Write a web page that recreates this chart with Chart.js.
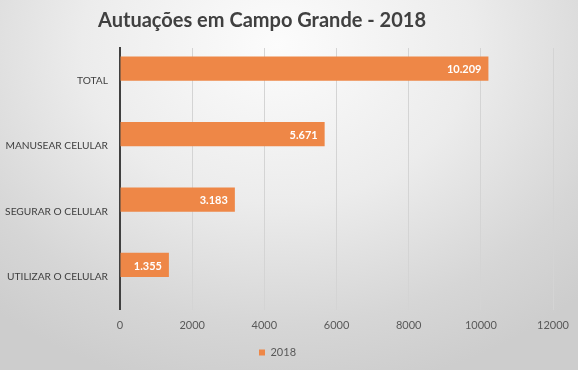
<!DOCTYPE html>
<html>
<head>
<meta charset="utf-8">
<script src="https://cdn.jsdelivr.net/npm/chart.js@4.4.0/dist/chart.umd.min.js"></script>
<style>
    html, body { margin: 0; padding: 0; }
    body {
        width: 578px;
        height: 370px;
        background: radial-gradient(ellipse 75% 95% at 48% 12%, #fcfcfc 0%, #ececec 45%, #d6d6d6 80%, #cdcdcd 100%);
    }
    #wrap { width: 578px; height: 370px; position: relative; }
</style>
</head>
<body>
<div id="wrap"><canvas id="chart"></canvas></div>
<script>
const chartTitle = "Autuações em Campo Grande - 2018";
const categories = ["TOTAL", "MANUSEAR CELULAR", "SEGURAR O CELULAR", "UTILIZAR O CELULAR"];
const values2018 = [10209, 5671, 3183, 1355];
const emptySeries = [null, null, null, null];
const xTicks = [0, 2000, 4000, 6000, 8000, 10000, 12000];

const FONT = "Lato, 'Liberation Sans', sans-serif";

function formatBR(n) {
    return String(n).replace(/\B(?=(\d{3})+(?!\d))/g, ".");
}

// title drawn by hand, Excel puts it a bit left of centre
const titlePlugin = {
    id: 'excelTitle',
    afterDraw(chart) {
        const c = chart.ctx;
        c.save();
        c.font = "bold 20px " + FONT;
        c.fillStyle = "#404040";
        c.textAlign = "center";
        c.textBaseline = "alphabetic";
        c.fillText(chartTitle, 262, 27);
        c.restore();
    }
};

// white value labels at the inside end of each bar
const valueLabels = {
    id: 'valueLabels',
    afterDatasetsDraw(chart) {
        const c = chart.ctx;
        const meta = chart.getDatasetMeta(0);
        c.save();
        c.font = "bold 11px " + FONT;
        c.fillStyle = "#ffffff";
        c.textAlign = "right";
        c.textBaseline = "middle";
        meta.data.forEach((bar, i) => {
            c.fillText(formatBR(values2018[i]), bar.x - 7, bar.y + 1);
        });
        c.restore();
    }
};

new Chart(document.getElementById("chart"), {
    type: 'bar',
    data: {
        labels: categories,
        datasets: [{
            label: '2018',
            data: values2018,
            backgroundColor: '#ee8747',
            categoryPercentage: 0.74,
            barPercentage: 1.0
        }, {
            label: '',
            data: emptySeries,
            backgroundColor: 'rgba(0,0,0,0)',
            categoryPercentage: 0.74,
            barPercentage: 1.0
        }]
    },
    options: {
        indexAxis: 'y',
        responsive: true,
        maintainAspectRatio: false,
        animation: false,
        layout: {
            padding: { top: 48, right: 23, bottom: 2, left: 0 }
        },
        scales: {
            x: {
                min: 0,
                max: 12000,
                afterBuildTicks: (scale) => {
                    scale.ticks = xTicks.map(v => ({ value: v }));
                },
                grid: { color: '#d4d4d4', drawTicks: false },
                border: { display: false },
                ticks: {
                    color: '#595959',
                    font: { family: FONT, size: 11 },
                    padding: 9,
                    callback: (v) => String(v)
                }
            },
            y: {
                afterFit: (scale) => { scale.width = 120; },
                grid: { display: false },
                border: { color: '#404040', width: 2 },
                ticks: {
                    color: '#404040',
                    font: { family: FONT, size: 10.2 },
                    padding: 4
                }
            }
        },
        plugins: {
            title: { display: false },
            tooltip: { enabled: false },
            legend: {
                position: 'bottom',
                labels: {
                    boxWidth: 6,
                    boxHeight: 6,
                    padding: 6,
                    color: '#595959',
                    font: { family: FONT, size: 11 },
                    filter: (item) => item.text !== ''
                }
            }
        }
    },
    plugins: [titlePlugin, valueLabels]
});
</script>
</body>
</html>
